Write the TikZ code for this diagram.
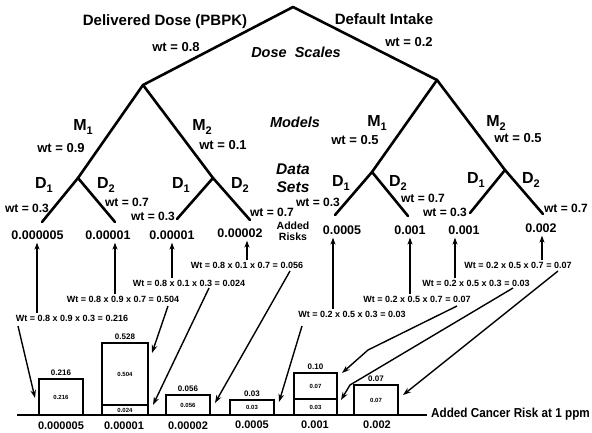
\documentclass[tikz,border=0pt]{standalone}
\usepackage{fontspec}
\setmainfont{Liberation Sans}
\usetikzlibrary{arrows.meta}
\newcommand{\fs}[1]{\fontsize{#1}{#1}\selectfont}
\newcommand{\subd}[1]{\raisebox{-0.55ex}{\fs{11}#1}}
\begin{document}
\begin{tikzpicture}[x=1pt,y=-1pt,
  treeline/.style={line width=2.6pt,line cap=round,line join=round},
  txt/.style={inner sep=0pt,font={\bfseries\fs{#1}}},
  itl/.style={inner sep=0pt,align=center,font={\bfseries\itshape\fs{#1}}},
  bar/.style={draw,line width=1.8pt,inner sep=0pt,outer sep=0pt,anchor=south west,minimum width=#1,font={\bfseries\fs{6}}},
  toplab/.style={inner sep=0pt,anchor=south,font={\bfseries\fs{8}}},
  botlab/.style={inner sep=0pt,font={\bfseries\fs{11}}},
  wlab/.style={inner sep=0pt,font={\bfseries\fs{9}}},
  uparrow/.style={line width=1.3pt,-{Stealth[length=7pt,width=5pt]}},
  diagarrow/.style={line width=1.4pt,line join=round,-{Stealth[length=8pt,width=5.5pt]}}]
\useasboundingbox (0,0) rectangle (592,432);
% tree points
\coordinate (top) at (293,7);
\coordinate (L) at (143,85);
\coordinate (R) at (437,80);
\coordinate (LM1) at (78,178);
\coordinate (LM2) at (213,178);
\coordinate (RM1) at (372,172);
\coordinate (RM2) at (505,170);
\coordinate (l1) at (42,222);
\coordinate (l2) at (115,222);
\coordinate (l3) at (177,219);
\coordinate (l4) at (250,220);
\coordinate (l5) at (335,215);
\coordinate (l6) at (408,216);
\coordinate (l7) at (470,213);
\coordinate (l8) at (543,214);
\draw[treeline] (L) -- (top) -- (R);
\draw[treeline] (LM1) -- (L) -- (LM2);
\draw[treeline] (RM1) -- (R) -- (RM2);
\draw[treeline] (l1) -- (LM1) -- (l2);
\draw[treeline] (l3) -- (LM2) -- (l4);
\draw[treeline] (l5) -- (RM1) -- (l6);
\draw[treeline] (l7) -- (RM2) -- (l8);
% top labels
\node[txt=15] (dd) at (165,22) {Delivered Dose (PBPK)};
\node[txt=13] (w08) at (176,47) {wt = 0.8};
\node[txt=15] (di) at (384,19) {Default Intake};
\node[txt=13] (w02) at (409,42) {wt = 0.2};
\node[itl=14.5] (ds) at (296,52) {Dose\ \ Scales};
\node[itl=14.5] (mo) at (295,122) {Models};
\node[itl=15.5] (dsets) at (293,178) {Data\\[2pt]Sets};
\node[txt=10.5,align=center] (ar) at (293,231) {Added\\[1pt]Risks};
% model labels
\node[txt=16] (m1a) at (83,127) {M\subd{1}};
\node[txt=13] (wm1a) at (61,148) {wt = 0.9};
\node[txt=16] (m2a) at (202,127) {M\subd{2}};
\node[txt=13] (wm2a) at (223,145) {wt = 0.1};
\node[txt=16] (m1b) at (377,123) {M\subd{1}};
\node[txt=13] (wm1b) at (355,140) {wt = 0.5};
\node[txt=16] (m2b) at (496,123) {M\subd{2}};
\node[txt=13] (wm2b) at (518,138) {wt = 0.5};
% data set labels
\node[txt=16] (d1a) at (44,185) {D\subd{1}};
\node[txt=16] (d2a) at (106,185) {D\subd{2}};
\node[txt=16] (d1b) at (181,185) {D\subd{1}};
\node[txt=16] (d2b) at (240,185) {D\subd{2}};
\node[txt=16] (d1c) at (341,183) {D\subd{1}};
\node[txt=16] (d2c) at (398,183) {D\subd{2}};
\node[txt=16] (d1d) at (476,180) {D\subd{1}};
\node[txt=16] (d2d) at (531,180) {D\subd{2}};
\node[txt=12] (wd1a) at (27,208) {wt = 0.3};
\node[txt=12] (wd2a) at (127,202) {wt = 0.7};
\node[txt=12] (wd1b) at (153,216) {wt = 0.3};
\node[txt=12] (wd2b) at (272,212) {wt = 0.7};
\node[txt=12] (wd1c) at (318,202) {wt = 0.3};
\node[txt=12] (wd2c) at (423,198) {wt = 0.7};
\node[txt=12] (wd1d) at (445,212) {wt = 0.3};
\node[txt=12] (wd2d) at (566,208) {wt = 0.7};
% risk values
\node[txt=12.5] (v1) at (37.5,235) {0.000005};
\node[txt=12.5] (v2) at (108,235) {0.00001};
\node[txt=12.5] (v3) at (172,235) {0.00001};
\node[txt=12.5] (v4) at (240,233) {0.00002};
\node[txt=12.5] (v5) at (342,230) {0.0005};
\node[txt=12.5] (v6) at (410,230) {0.001};
\node[txt=12.5] (v7) at (464,230) {0.001};
\node[txt=12.5] (v8) at (541,228) {0.002};
% weight products
\node[wlab] (w1) at (72,318) {Wt = 0.8 x 0.9 x 0.3 = 0.216};
\node[wlab] (w2) at (123,299) {Wt = 0.8 x 0.9 x 0.7 = 0.504};
\node[wlab] (w3) at (189,283) {Wt = 0.8 x 0.1 x 0.3 = 0.024};
\node[wlab] (w4) at (247,265) {Wt = 0.8 x 0.1 x 0.7 = 0.056};
\node[wlab] (w5) at (352,314) {Wt = 0.2 x 0.5 x 0.3 = 0.03};
\node[wlab] (w6) at (417,299) {Wt = 0.2 x 0.5 x 0.7 = 0.07};
\node[wlab] (w7) at (476,283) {Wt = 0.2 x 0.5 x 0.3 = 0.03};
\node[wlab] (w8) at (518,265) {Wt = 0.2 x 0.5 x 0.7 = 0.07};
% arrow columns
\coordinate (a1) at (37,0);
\coordinate (a2) at (115,0);
\coordinate (a3) at (172,0);
\coordinate (a4) at (247,0);
\coordinate (a5) at (333,0);
\coordinate (a6) at (410,0);
\coordinate (a7) at (455,0);
\coordinate (a8) at (542,0);
\draw[uparrow] ([yshift=2pt]w1.north -| a1) -- ([yshift=-3pt]v1.south -| a1);
\draw[uparrow] ([yshift=2pt]w2.north -| a2) -- ([yshift=-3pt]v2.south -| a2);
\draw[uparrow] ([yshift=2pt]w3.north -| a3) -- ([yshift=-3pt]v3.south -| a3);
\draw[uparrow] ([yshift=2pt]w4.north -| a4) -- ([yshift=-3pt]v4.south -| a4);
\draw[uparrow] ([yshift=2pt]w5.north -| a5) -- ([yshift=-3pt]v5.south -| a5);
\draw[uparrow] ([yshift=2pt]w6.north -| a6) -- ([yshift=-3pt]v6.south -| a6);
\draw[uparrow] ([yshift=2pt]w7.north -| a7) -- ([yshift=-3pt]v7.south -| a7);
\draw[uparrow] ([yshift=2pt]w8.north -| a8) -- ([yshift=-3pt]v8.south -| a8);
% histogram
\coordinate (base0) at (17,415);
\node[txt=13,anchor=west] (axis) at (431,414) {\scalebox{0.9}[1]{Added Cancer Risk at 1 ppm}};
\draw[line width=1.6pt] (base0) -- ([xshift=-4pt]axis.west |- base0);
\node[bar=44pt,minimum height=36pt] (b1) at (39,415) {0.216};
\node[bar=46pt,minimum height=10pt] (b2a) at (102,415) {0.024};
\node[bar=46pt,minimum height=62pt] (b2b) at (b2a.north west) {0.504};
\node[bar=44pt,minimum height=20pt] (b3) at (166,415) {0.056};
\node[bar=44pt,minimum height=15pt] (b4) at (230,415) {0.03};
\node[bar=43pt,minimum height=16pt] (b5a) at (294,415) {0.03};
\node[bar=43pt,minimum height=26pt] (b5b) at (b5a.north west) {0.07};
\node[bar=44pt,minimum height=30pt] (b6) at (354,415) {0.07};
\node[toplab] (t1) at ([yshift=3pt]b1.north) {0.216};
\node[toplab] (t2) at ([yshift=3pt]b2b.north) {0.528};
\node[toplab] (t3) at ([yshift=3pt]b3.north) {0.056};
\node[toplab] (t4) at ([yshift=3pt]b4.north) {0.03};
\node[toplab] (t5) at ([yshift=3pt]b5b.north) {0.10};
\node[toplab] (t6) at ([yshift=3pt]b6.north) {0.07};
\node[botlab] (x1) at (61,426) {0.000005};
\node[botlab] (x2) at (124,426) {0.00001};
\node[botlab] (x3) at (188,426) {0.00002};
\node[botlab] (x4) at (252,425) {0.0005};
\node[botlab] (x5) at (315,425) {0.001};
\node[botlab] (x6) at (377,425) {0.002};
% diagonal arrows
\coordinate (s1) at (18,326);  \coordinate (e1) at (35,398);
\coordinate (s2) at (168,306); \coordinate (e2) at (152,353);
\coordinate (s3) at (209,288); \coordinate (e3) at (153,405);
\coordinate (s4) at (290,271); \coordinate (e4) at (215,403);
\coordinate (s5) at (302,326); \coordinate (e5) at (279,402);
\coordinate (s6) at (457,306); \coordinate (k6) at (368,350); \coordinate (e6) at (342,373);
\coordinate (s7) at (513,288); \coordinate (k7) at (350,385); \coordinate (e7) at (341,400);
\coordinate (s8) at (558,271); \coordinate (e8) at (403,395);
\draw[diagarrow] (s1) -- (e1);
\draw[diagarrow] (s2) -- (e2);
\draw[diagarrow] (s3) -- (e3);
\draw[diagarrow] (s4) -- (e4);
\draw[diagarrow] (s5) -- (e5);
\draw[diagarrow] (s6) -- (k6) -- (e6);
\draw[diagarrow] (s7) -- (k7) -- (e7);
\draw[diagarrow] (s8) -- (e8);
\end{tikzpicture}
\end{document}
